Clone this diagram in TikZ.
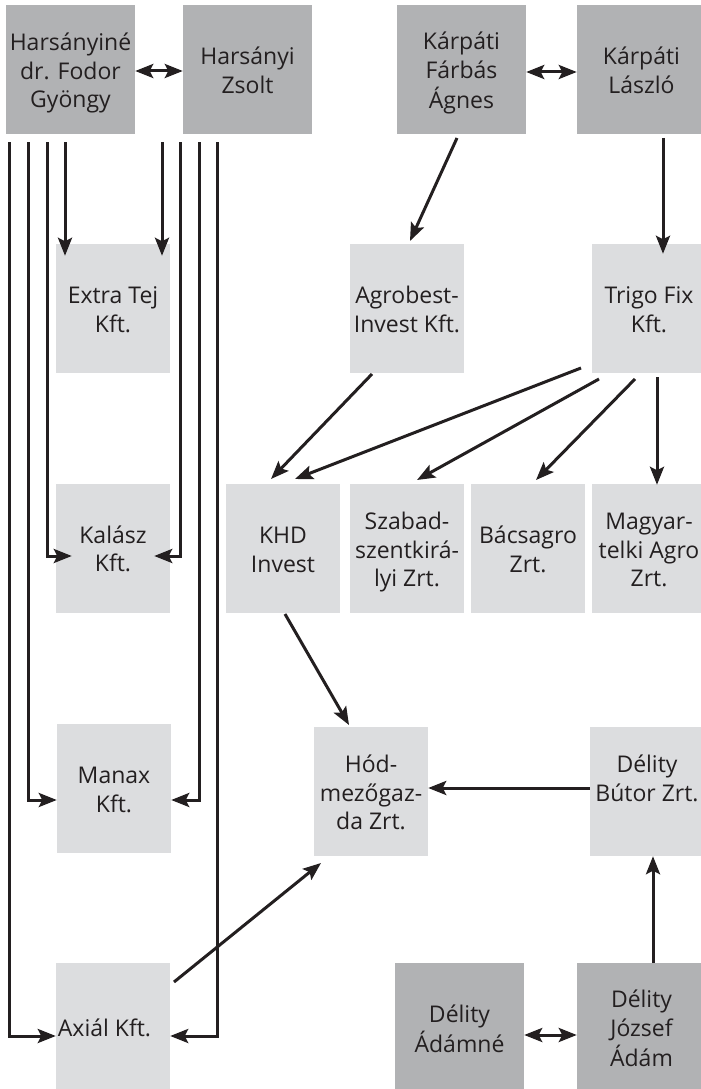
\documentclass[tikz,border=0pt]{standalone}
\usepackage{fontspec}
\setmainfont{Open Sans}
\usetikzlibrary{arrows.meta}
\definecolor{darkbox}{HTML}{B1B2B4}
\definecolor{lightbox}{HTML}{DCDDDF}
\definecolor{ink}{HTML}{231F20}
\newcommand{\boxtext}[1]{\raisebox{-4pt}[\height][\depth]{\begin{tabular}{@{}c@{}}#1\end{tabular}}}
\tikzset{
  owner/.style={fill=darkbox, minimum width=129pt, minimum height=129pt, inner sep=0pt, font=\fontsize{23}{28.5}\selectfont, text=ink},
  firm/.style={fill=lightbox, minimum width=114pt, minimum height=129pt, inner sep=0pt, font=\fontsize{23}{28.5}\selectfont, text=ink},
  arr/.style={line width=3pt, draw=ink, -{Stealth[length=18pt,width=14pt,inset=3.5pt]}},
  darr/.style={line width=3pt, draw=ink, {Stealth[length=18pt,width=14pt,inset=3.5pt]}-{Stealth[length=18pt,width=14pt,inset=3.5pt]}}
}
\begin{document}
\begin{tikzpicture}[x=1pt,y=-1pt]
\useasboundingbox (0,0) rectangle (701,1089);
% owners
\node[owner] (hfg) at (70.5,69.5) {\boxtext{Harsányiné\\dr. Fodor\\Gyöngy}};
\node[owner] (hzs) at (247.5,69.5) {\boxtext{Harsányi\\Zsolt}};
\node[owner] (kfa) at (461.5,69.5) {\boxtext{Kárpáti\\Fárbás\\Ágnes}};
\node[owner] (kl) at (641.5,69.5) {\boxtext{Kárpáti\\László}};
% firms
\node[firm] (etej) at (113,308.5) {\boxtext{Extra Tej\\Kft.}};
\node[firm] (agro) at (407,308.5) {\boxtext{Agrobest-\\Invest Kft.}};
\node[firm] (trigo) at (649,308.5) {\boxtext{Trigo Fix\\Kft.}};
\node[firm] (kalasz) at (113,548) {\boxtext{Kalász\\Kft.}};
\node[firm] (khd) at (283,548.5) {\boxtext{KHD\\Invest}};
\node[firm] (szabad) at (407,548.5) {\boxtext{Szabad-\\szentkirá-\\lyi Zrt.}};
\node[firm] (bacs) at (528,548.5) {\boxtext{Bácsagro\\Zrt.}};
\node[firm] (magyar) at (649,548.5) {\boxtext{Magyar-\\telki Agro\\Zrt.}};
\node[firm] (manax) at (114,788.5) {\boxtext{Manax\\Kft.}};
\node[firm] (hod) at (371,791.5) {\boxtext{Hód-\\mezőgaz-\\da Zrt.}};
\node[firm] (butor) at (647,791.5) {\boxtext{Délity\\Bútor Zrt.\\\mbox{}}};
\node[firm] (axial) at (113,1027.5) {Axiál Kft.\hspace*{17pt}};
\node[owner] (adamne) at (459.5,1027.5) {\boxtext{Délity\\Ádámné}};
\node[owner] (jozsef) at (641.5,1027.5) {\boxtext{Délity\\József\\Ádám}};
% couples
\draw[darr] (hfg.east |- 0,71) -- (hzs.west |- 0,71);
\draw[darr] (kfa.east |- 0,72) -- (kl.west |- 0,72);
\draw[darr] (adamne.east |- 0,1035) -- (jozsef.west |- 0,1035);
% Harsanyi family lines
\coordinate (h1) at (9,142);
\coordinate (h2) at (28,142);
\coordinate (h3) at (47,142);
\coordinate (h4) at (65,142);
\coordinate (z1) at (162,142);
\coordinate (z2) at (180,142);
\coordinate (z3) at (199,142);
\coordinate (z4) at (217,142);
\draw[arr] (h4) -- ([yshift=-12pt]h4 |- etej.north);
\draw[arr] (z1) -- ([yshift=-12pt]z1 |- etej.north);
\draw[arr] (h3) |- ([xshift=16pt]kalasz.west |- 0,556);
\draw[arr] (z2) |- ([xshift=-16pt]kalasz.east |- 0,556);
\draw[arr] (h2) |- (manax.west |- 0,800);
\draw[arr] (z3) |- (manax.east |- 0,800);
\draw[arr] (h1) |- (axial.west |- 0,1036);
\draw[arr] (z4) |- (axial.east |- 0,1036);
% Karpati
\draw[arr] (457,138) -- (410,241);
\draw[arr] (663,138) -- ([yshift=-10pt]663,0 |- trigo.north);
\draw[arr] (372,374) -- (271,479);
\draw[arr] (581,368) -- (295,479);
\draw[arr] (599,379) -- (417,480);
\draw[arr] (635,379) -- (536,480);
\draw[arr] (657,377) -- ([yshift=-1pt]657,0 |- magyar.north);
% to Hod
\draw[arr] (285,614) -- (349,725);
\draw[arr] (174,982) -- (321,863);
\draw[arr] (butor.west |- 0,788) -- (hod.east |- 0,788);
\draw[arr] (jozsef.north -| 653,0) -- (butor.south -| 653,0);
\end{tikzpicture}
\end{document}
